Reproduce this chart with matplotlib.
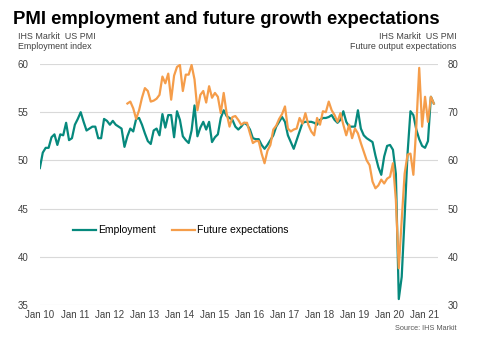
import numpy as np
import matplotlib
matplotlib.use("Agg")
import matplotlib.pyplot as plt

plt.rcParams['font.family'] = ['Liberation Sans', 'DejaVu Sans']

# Monthly data, Jan 2010 onwards
employment = [
    49.2, 50.8, 51.3, 51.3, 52.4, 52.7, 51.6, 52.7, 52.6, 53.9, 52.1, 52.3,
    53.7, 54.3, 55.0, 54.0, 53.1, 53.3, 53.5, 53.5, 52.3, 52.3, 54.3, 54.1,
    53.7, 54.1, 53.7, 53.5, 53.3, 51.4, 52.5, 53.3, 53.0, 54.3, 54.4, 53.7,
    52.8, 52.0, 51.7, 53.1, 53.3, 52.6, 54.8, 53.4, 54.7, 54.7, 52.4, 55.1,
    54.2, 52.5, 52.1, 51.8, 53.1, 55.7, 52.5, 53.4, 54.0, 53.2, 54.0, 51.9,
    52.4, 52.7, 54.4, 55.2, 54.6, 54.4, 54.2, 53.5, 53.2, 53.5, 53.9, 53.7,
    53.2, 52.3, 52.2, 52.2, 51.6, 51.2, 51.6, 52.1, 52.6, 53.5, 54.0, 54.5,
    54.0, 52.6, 51.9, 51.2, 52.1, 53.0, 53.9, 54.0, 54.0, 54.0, 53.9, 53.7,
    54.2, 54.4, 54.4, 54.5, 54.7, 54.2, 53.9, 54.2, 55.1, 54.0, 53.5, 53.5,
    53.5, 55.2, 53.3, 52.6, 52.3, 52.1, 51.9, 50.5, 49.3, 48.5, 50.4, 51.5,
    51.6, 51.1, 48.6, 35.6, 37.9, 44.1, 50.7, 55.1, 54.7, 53.2, 52.2, 51.5,
    51.3, 52.0, 56.6, 55.9,
]

# Future output expectations, from Jul 2012 (right axis)
expect_start = 30
expectations = [
    71.8, 72.2, 70.8, 68.6, 70.4, 73.0,
    75.0, 74.4, 72.2, 72.4, 72.8, 73.6, 77.4, 76.0, 78.0, 72.6, 77.6, 79.4,
    79.8, 74.4, 77.8, 77.8, 79.8, 76.8, 70.4, 73.6, 74.4, 72.0, 75.4, 73.0,
    74.0, 73.2, 69.8, 74.0, 69.8, 67.0, 69.0, 69.2, 68.4, 67.4, 67.8, 67.8,
    65.6, 63.6, 64.0, 64.0, 61.4, 59.4, 62.0, 63.2, 66.4, 67.2, 68.6, 69.6,
    71.2, 66.6, 66.0, 66.4, 66.6, 68.8, 67.6, 69.8, 67.4, 66.0, 65.2, 68.8,
    67.4, 70.2, 70.0, 72.2, 70.4, 69.4, 68.0, 69.8, 67.4, 65.2, 67.4, 64.6,
    66.6, 65.6, 63.6, 61.8, 60.0, 59.0, 55.6, 54.2, 54.8, 56.0, 55.2, 56.2,
    56.6, 59.4, 51.8, 37.6, 47.6, 57.2, 61.2, 61.4, 57.0, 67.0, 79.2, 67.0,
    73.2, 68.0, 73.2, 71.8,
]

years = list(range(10, 22))
tick_labels = [f"Jan {y}" for y in years]

teal = "#06897d"
orange = "#f59d4a"
grid_col = "#d9d9d9"
txt_col = "#404040"

x_emp = np.arange(len(employment))
x_exp = np.arange(expect_start, expect_start + len(expectations))

fig = plt.figure(figsize=(4.86, 3.48), dpi=100)
ax = fig.add_axes([0.082, 0.124, 0.819, 0.692])
ax2 = ax.twinx()

ax.plot(x_emp, employment, color=teal, lw=1.6, label="Employment", zorder=3)
ax2.plot(x_exp, expectations, color=orange, lw=1.6, label="Future expectations", zorder=3)

ax.set_xlim(0, 136.4)
ax.set_ylim(35, 60)
ax2.set_ylim(30, 80)
ax.set_yticks(range(35, 61, 5))
ax2.set_yticks(range(30, 81, 10))
ax.set_xticks([12 * i for i in range(len(years))])
ax.set_xticklabels(tick_labels)

for a in (ax, ax2):
    for s in a.spines.values():
        s.set_visible(False)
    a.tick_params(length=0, labelsize=7, colors=txt_col)
ax.tick_params(axis='y', pad=8)
ax2.tick_params(axis='y', pad=7)
ax.tick_params(axis='x', pad=4)
ax.yaxis.grid(True, color=grid_col, lw=0.8)
ax.set_axisbelow(True)

# legend
h1, l1 = ax.get_legend_handles_labels()
h2, l2 = ax2.get_legend_handles_labels()
ax2.legend(h1 + h2, l1 + l2, loc="center left", bbox_to_anchor=(0.06, 0.31),
           ncol=2, frameon=False, fontsize=7.5, handlelength=2.2,
           handletextpad=0.2, columnspacing=1.6)

fig.text(0.027, 0.945, "PMI employment and future growth expectations",
         fontsize=13.3, fontweight="bold", color="black", va="center")
fig.text(0.037, 0.880, "IHS Markit  US PMI\nEmployment index", fontsize=6.4,
         color=txt_col, va="center", linespacing=1.15)
fig.text(0.940, 0.880, "IHS Markit  US PMI\nFuture output expectations", fontsize=6.4,
         color=txt_col, va="center", ha="right", multialignment="right",
         linespacing=1.15)
fig.text(0.940, 0.057, "Source: IHS Markit", fontsize=5.3, color="#595959",
         ha="right", va="center")

fig.savefig("out.png", dpi=100)
